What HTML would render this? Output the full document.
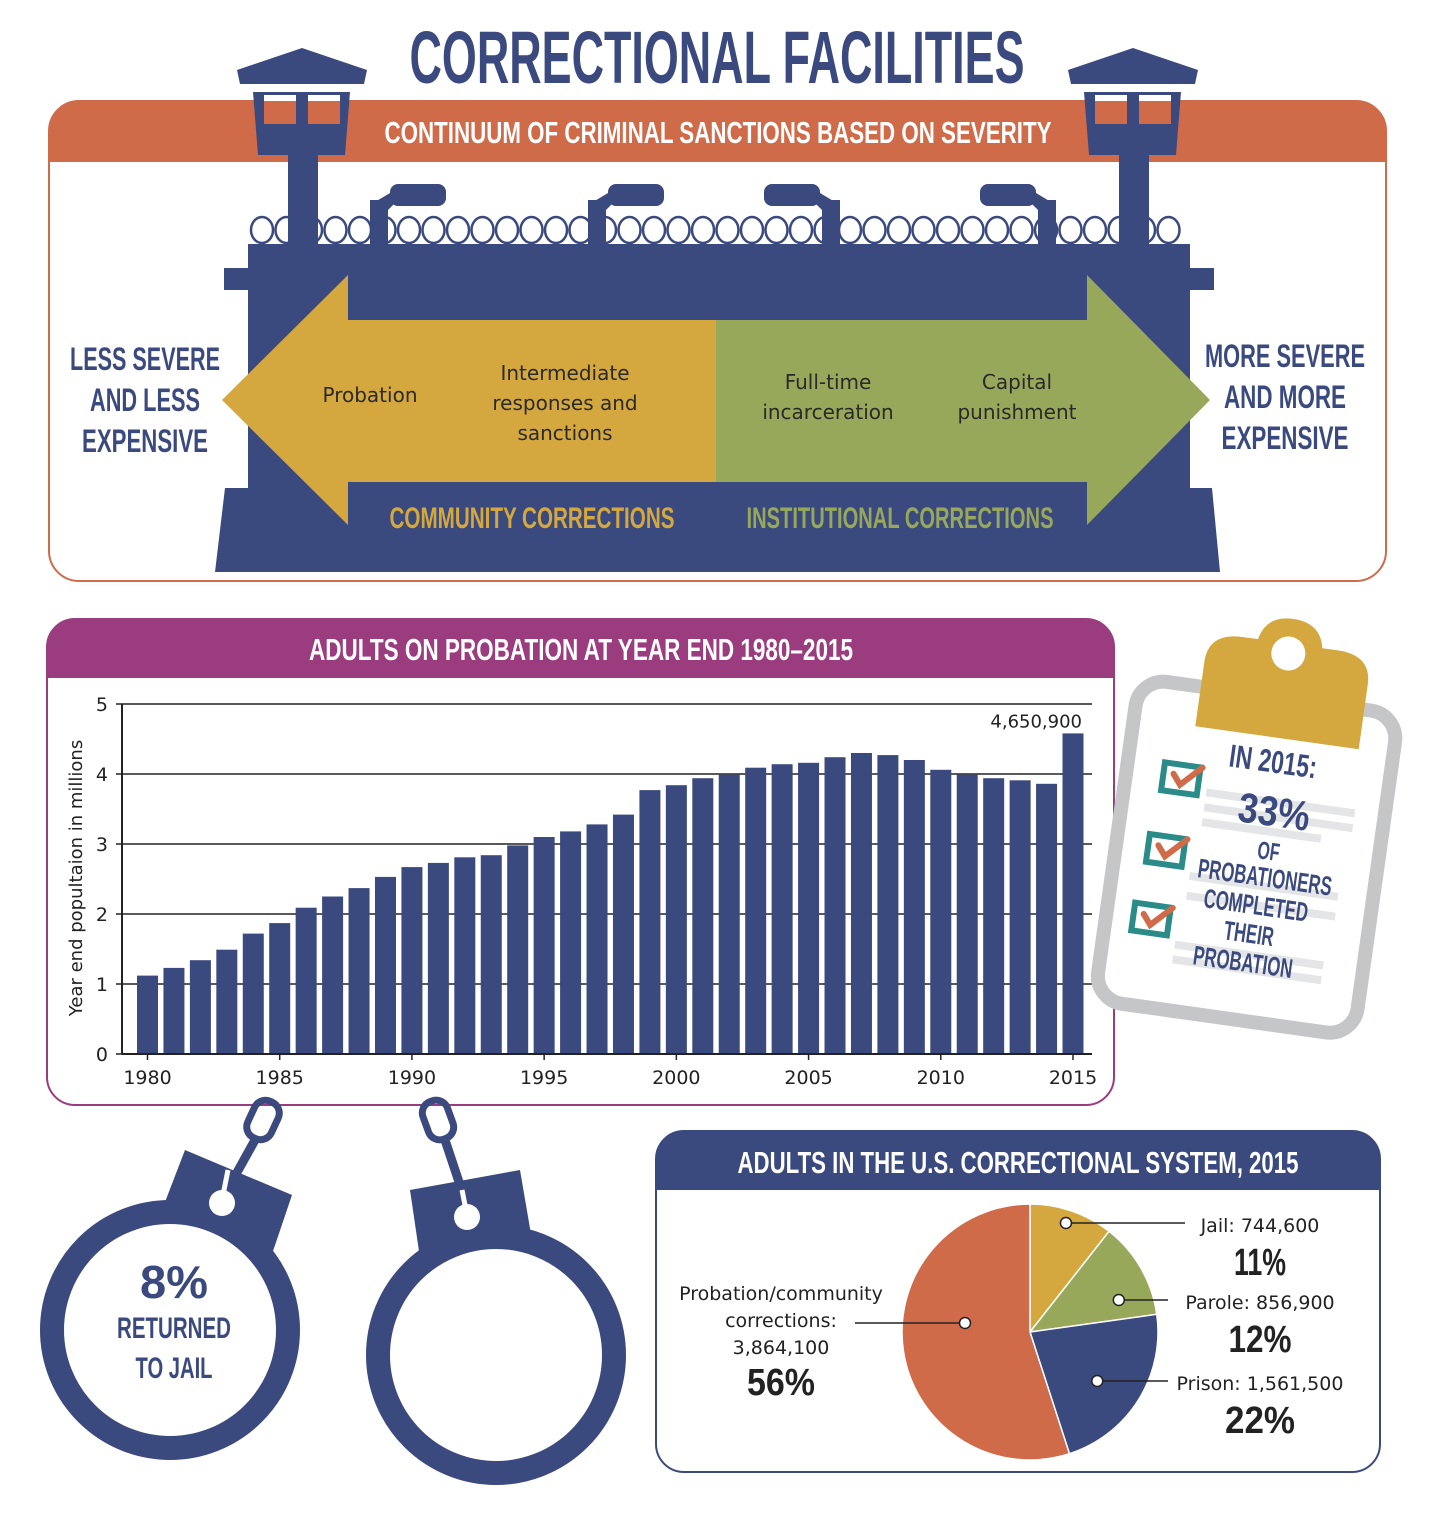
<!DOCTYPE html>
<html><head><meta charset="utf-8"><style>
body{margin:0;background:#fff;}
svg{display:block;}
.c{font-family:"Liberation Sans Narrow","Liberation Sans",sans-serif;font-weight:bold;}
.s{font-family:"DejaVu Sans","Liberation Sans",sans-serif;}
</style></head><body>
<svg width="1430" height="1519" viewBox="0 0 1430 1519" xmlns="http://www.w3.org/2000/svg">
<g><text x="717" y="83" text-anchor="middle" class="c" font-size="74" fill="#3b4a7e" textLength="615" lengthAdjust="spacingAndGlyphs">CORRECTIONAL FACILITIES</text></g>

<g>
<rect x="49" y="101" width="1337" height="480" rx="30" fill="#fff" stroke="#d06b4a" stroke-width="2"/>
<path d="M79 101 H1356 A30 30 0 0 1 1386 131 V162 H49 V131 A30 30 0 0 1 79 101Z" fill="#d06b4a"/>
<text x="718" y="143" text-anchor="middle" class="c" font-size="31" fill="#fff" textLength="667" lengthAdjust="spacingAndGlyphs">CONTINUUM OF CRIMINAL SANCTIONS BASED ON SEVERITY</text>
</g>

<g fill="#3b4a7e">
<g>
<polygon points="237,70 302,48 367,70 364,84 240,84"/>
<polygon points="253,92 350,92 345,155 258,155"/>
<rect x="264" y="95" width="32" height="29" fill="#d06b4a"/><rect x="308" y="95" width="32" height="29" fill="#d06b4a"/>
<rect x="264" y="95" width="32" height="6" fill="#fff"/><rect x="308" y="95" width="32" height="6" fill="#fff"/>
<rect x="288" y="155" width="30" height="100"/>
</g>
<g>
<polygon points="1068,70 1133,48 1198,70 1195,84 1071,84"/>
<polygon points="1084,92 1181,92 1176,155 1089,155"/>
<rect x="1095" y="95" width="32" height="29" fill="#d06b4a"/><rect x="1139" y="95" width="32" height="29" fill="#d06b4a"/>
<rect x="1095" y="95" width="32" height="6" fill="#fff"/><rect x="1139" y="95" width="32" height="6" fill="#fff"/>
<rect x="1119" y="155" width="30" height="100"/>
</g>
<g>
<rect x="370" y="200" width="18" height="50"/><polygon points="370,205 395,190 400,198 388,210"/><rect x="390" y="184" width="56" height="22" rx="8"/>
<rect x="588" y="200" width="18" height="50"/><polygon points="588,205 613,190 618,198 606,210"/><rect x="608" y="184" width="56" height="22" rx="8"/>
<rect x="822" y="200" width="18" height="50"/><polygon points="840,205 815,190 810,198 822,210"/><rect x="764" y="184" width="56" height="22" rx="8"/>
<rect x="1038" y="200" width="18" height="50"/><polygon points="1056,205 1031,190 1026,198 1038,210"/><rect x="980" y="184" width="56" height="22" rx="8"/>
</g>
<g fill="none" stroke="#3b4a7e" stroke-width="2.5" id="wire"></g>
<rect x="248" y="244" width="942" height="250"/>
<rect x="224" y="268" width="30" height="22"/><rect x="1184" y="268" width="30" height="22"/>
<polygon points="225,488 1212,488 1220,572 215,572"/>
</g>

<g>
<polygon points="222,400 348,275 348,320 716,320 716,482 348,482 348,525" fill="#d4a83e"/>
<polygon points="1210,400 1087,275 1087,320 716,320 716,482 1087,482 1087,525" fill="#98a85a"/>
<g class="s" font-size="20" fill="#2a2a2a" text-anchor="middle">
<text x="370" y="402">Probation</text>
<text x="565" y="380">Intermediate</text><text x="565" y="410">responses and</text><text x="565" y="440">sanctions</text>
<text x="828" y="389">Full-time</text><text x="828" y="419">incarceration</text>
<text x="1017" y="389">Capital</text><text x="1017" y="419">punishment</text>
</g>
<text x="532" y="528" text-anchor="middle" class="c" font-size="30" fill="#d4a83e" textLength="285" lengthAdjust="spacingAndGlyphs">COMMUNITY CORRECTIONS</text>
<text x="900" y="528" text-anchor="middle" class="c" font-size="30" fill="#98a85a" textLength="307" lengthAdjust="spacingAndGlyphs">INSTITUTIONAL CORRECTIONS</text>
</g>
<g class="c" font-size="32" fill="#3b4a7e" text-anchor="middle">
<text x="145" y="370" textLength="150" lengthAdjust="spacingAndGlyphs">LESS SEVERE</text><text x="145" y="411" textLength="110" lengthAdjust="spacingAndGlyphs">AND LESS</text><text x="145" y="452" textLength="126" lengthAdjust="spacingAndGlyphs">EXPENSIVE</text>
<text x="1285" y="367" textLength="160" lengthAdjust="spacingAndGlyphs">MORE SEVERE</text><text x="1285" y="408" textLength="122" lengthAdjust="spacingAndGlyphs">AND MORE</text><text x="1285" y="449" textLength="127" lengthAdjust="spacingAndGlyphs">EXPENSIVE</text>
</g>

<g>
<rect x="47" y="619" width="1067" height="486" rx="28" fill="#fff" stroke="#9b3c7f" stroke-width="2"/>
<path d="M75 619 H1086 A28 28 0 0 1 1114 647 V678 H47 V647 A28 28 0 0 1 75 619Z" fill="#9b3c7f"/>
<text x="581" y="660" text-anchor="middle" class="c" font-size="31" fill="#fff" textLength="544" lengthAdjust="spacingAndGlyphs">ADULTS ON PROBATION AT YEAR END 1980–2015</text>
<g id="barchart"></g>
</g>

<g transform="rotate(8 1250 840)">
<rect x="1118" y="695" width="262" height="325" rx="28" fill="#fff" stroke="#c5c6c8" stroke-width="14"/>
<path d="M1180 700 V670 Q1180 640 1215 640 H1230 Q1235 615 1262 615 Q1290 615 1295 640 H1310 Q1345 640 1345 670 V735 H1180Z" fill="#d4a83e"/>
<circle cx="1262" cy="650" r="17" fill="#fff"/>
<g fill="#e4e5e6"><rect x="1200" y="795" width="150" height="8"/><rect x="1200" y="810" width="150" height="8"/><rect x="1200" y="825" width="120" height="8"/><rect x="1195" y="880" width="150" height="8"/><rect x="1195" y="900" width="150" height="8"/><rect x="1190" y="950" width="150" height="8"/><rect x="1190" y="965" width="150" height="8"/></g>
<g>
<rect x="1155" y="775" width="36" height="28" fill="none" stroke="#2a8b88" stroke-width="6"/><path d="M1165 785 l8 10 l20 -20" fill="none" stroke="#d06b4a" stroke-width="6" stroke-linecap="round"/>
<rect x="1150" y="848" width="36" height="28" fill="none" stroke="#2a8b88" stroke-width="6"/><path d="M1160 858 l8 10 l20 -20" fill="none" stroke="#d06b4a" stroke-width="6" stroke-linecap="round"/>
<rect x="1145" y="918" width="36" height="28" fill="none" stroke="#2a8b88" stroke-width="6"/><path d="M1155 928 l8 10 l20 -20" fill="none" stroke="#d06b4a" stroke-width="6" stroke-linecap="round"/>
</g>
<g class="c" fill="#3b4a7e" text-anchor="middle">
<text x="1262" y="770" font-size="32" textLength="88" lengthAdjust="spacingAndGlyphs">IN 2015:</text>
<text x="1270" y="823" font-size="42" textLength="72" lengthAdjust="spacingAndGlyphs">33%</text>
<text x="1270" y="857" font-size="25" textLength="22" lengthAdjust="spacingAndGlyphs">OF</text>
<text x="1270" y="884" font-size="27" textLength="135" lengthAdjust="spacingAndGlyphs">PROBATIONERS</text>
<text x="1265" y="913" font-size="27" textLength="105" lengthAdjust="spacingAndGlyphs">COMPLETED</text>
<text x="1262" y="942" font-size="27" textLength="50" lengthAdjust="spacingAndGlyphs">THEIR</text>
<text x="1260" y="971" font-size="27" textLength="100" lengthAdjust="spacingAndGlyphs">PROBATION</text>
</g>
</g>

<g fill="#3b4a7e">
<g fill="none" stroke="#3b4a7e" stroke-width="7">
<rect x="250" y="1100" width="26" height="40" rx="12" transform="rotate(25 263 1120)"/>
<rect x="425" y="1100" width="26" height="40" rx="12" transform="rotate(-20 438 1120)"/>
<line x1="255" y1="1140" x2="230" y2="1185" stroke-width="9"/>
<line x1="445" y1="1140" x2="460" y2="1185" stroke-width="9"/>
</g>
<polygon points="185,1150 292,1195 270,1260 160,1215"/>
<line x1="228" y1="1170" x2="222" y2="1200" stroke="#fff" stroke-width="5"/>
<polygon points="410,1190 520,1170 532,1240 420,1258"/>
<line x1="462" y1="1190" x2="467" y2="1215" stroke="#fff" stroke-width="5"/>
<circle cx="170" cy="1330" r="118" fill="#fff" stroke="#3b4a7e" stroke-width="24"/>
<circle cx="496" cy="1355" r="118" fill="#fff" stroke="#3b4a7e" stroke-width="24"/>
<circle cx="222" cy="1203" r="13" fill="#fff"/>
<circle cx="467" cy="1217" r="13" fill="#fff"/>
<g class="c" text-anchor="middle"><text x="174" y="1298" font-size="46" textLength="68" lengthAdjust="spacingAndGlyphs">8%</text><text x="174" y="1338" font-size="30" textLength="114" lengthAdjust="spacingAndGlyphs">RETURNED</text><text x="174" y="1378" font-size="30" textLength="77" lengthAdjust="spacingAndGlyphs">TO JAIL</text></g>
</g>

<g>
<rect x="656" y="1131" width="724" height="341" rx="28" fill="#fff" stroke="#3b4a7e" stroke-width="2"/>
<path d="M684 1131 H1352 A28 28 0 0 1 1380 1159 V1190 H656 V1159 A28 28 0 0 1 684 1131Z" fill="#3b4a7e"/>
<text x="1018" y="1173" text-anchor="middle" class="c" font-size="31" fill="#fff" textLength="561" lengthAdjust="spacingAndGlyphs">ADULTS IN THE U.S. CORRECTIONAL SYSTEM, 2015</text>
<g id="pie"></g>
</g>

<script>
const NS="http://www.w3.org/2000/svg";
function mk(t,a,p){const e=document.createElementNS(NS,t);for(const k in a)e.setAttribute(k,a[k]);p.appendChild(e);return e;}
const wire=document.getElementById('wire');
for(let x=262;x<1185;x+=24.5){mk('ellipse',{cx:x,cy:230,rx:11,ry:13},wire);}

// bar chart data
const years=[1980,1981,1982,1983,1984,1985,1986,1987,1988,1989,1990,1991,1992,1993,1994,1995,1996,1997,1998,1999,2000,2001,2002,2003,2004,2005,2006,2007,2008,2009,2010,2011,2012,2013,2014,2015];
const probation=[1.12,1.23,1.34,1.49,1.72,1.87,2.09,2.25,2.37,2.53,2.67,2.73,2.81,2.84,2.98,3.1,3.18,3.28,3.42,3.77,3.84,3.94,3.99,4.09,4.14,4.16,4.24,4.30,4.27,4.20,4.06,3.99,3.94,3.91,3.86,4.58];
const yTicks=[0,1,2,3,4,5];
const xTickLabels=[1980,1985,1990,1995,2000,2005,2010,2015];
const peakLabel="4,650,900";

const bc=document.getElementById('barchart');
const X0=122,X1=1092,Y0=1054,Y1=704;
const XA=147.5,XB=1073;
const xs=i=>XA+(XB-XA)*i/(years.length-1);
const ys=v=>Y0-(v/5)*(Y0-Y1);
yTicks.forEach(t=>{
  if(t>0){const l=mk('line',{x1:X0,x2:X1,y1:ys(t),y2:ys(t),stroke:'#222','stroke-width':1.5},bc);
  
  }
  const tx=mk('text',{x:X0-14,y:ys(t)+7,'text-anchor':'end','font-size':19,fill:'#222',class:'s'},bc);tx.textContent=t;
  
  
  mk('line',{x1:X0-6,x2:X0,y1:ys(t),y2:ys(t),stroke:'#222','stroke-width':1.5},bc);
});
probation.forEach((v,i)=>{
  const r=mk('rect',{x:xs(i)-10.5,y:ys(v),width:21,height:Y0-ys(v),fill:'#3b4a7e'},bc);
  
  
});
mk('line',{x1:X0,x2:X0,y1:Y1,y2:Y0,stroke:'#222','stroke-width':2},bc);
mk('line',{x1:X0,x2:X1,y1:Y0,y2:Y0,stroke:'#222','stroke-width':2},bc);
xTickLabels.forEach(y=>{
  const i=years.indexOf(y);
  mk('line',{x1:xs(i),x2:xs(i),y1:Y0,y2:Y0+6,stroke:'#222','stroke-width':1.5},bc);
  const t=mk('text',{x:xs(i),y:Y0+30,'text-anchor':'middle','font-size':19,fill:'#222',class:'s'},bc);t.textContent=y;
  
  
});
const pk=mk('text',{x:xs(years.length-1)+9,y:ys(probation[probation.length-1])-6,'text-anchor':'end','font-size':18,fill:'#222',class:'s'},bc);pk.textContent=peakLabel;


const yt=mk('text',{x:0,y:0,'text-anchor':'middle','font-size':18,fill:'#222',class:'s',transform:'translate(82 878) rotate(-90)'},bc);yt.textContent='Year end popultaion in millions';



// pie data
const pieLabels=["Jail","Parole","Prison","Probation/community corrections"];
const pieValues=[744600,856900,1561500,3864100];
const piePct=["11%","12%","22%","56%"];
const pieColors=['#d4a83e','#98a85a','#3b4a7e','#d06b4a'];
const pie=document.getElementById('pie');
const CX=1030,CY=1332,R=128;
const tot=pieValues.reduce((a,b)=>a+b,0);
let a=0;const mids=[];
pieValues.forEach((v,i)=>{
  const a2=a+v/tot*2*Math.PI;
  const p=(ang)=>[CX+R*Math.sin(ang),CY-R*Math.cos(ang)];
  const [x1,y1]=p(a),[x2,y2]=p(a2);
  const s=mk('path',{d:`M${CX} ${CY} L${x1} ${y1} A${R} ${R} 0 ${a2-a>Math.PI?1:0} 1 ${x2} ${y2}Z`,fill:pieColors[i],stroke:'#fff','stroke-width':1.5},pie);
  
  
  mids.push((a+a2)/2);a=a2;
});
function num(v){return v.toLocaleString('en-US');}
const rightY=[1225,1302,1383];
const pctW=[52,63,70];
for(let i=0;i<3;i++){
  const m=mids[i];const dx=CX+R*0.62*Math.sin(m)+(i==0?10:i==1?20:0);
  const ly=rightY[i]-2;
  mk('line',{x1:dx,y1:ly,x2:i==0?1185:1168,y2:ly,stroke:'#222','stroke-width':1.5},pie);
  mk('circle',{cx:dx,cy:ly,r:5.5,fill:'#fff',stroke:'#222','stroke-width':1.5},pie);
  const t=mk('text',{x:1260,y:rightY[i]+7,'text-anchor':'middle','font-size':19,fill:'#222',class:'s'},pie);t.textContent=pieLabels[i]+': '+num(pieValues[i]);
  
  
  const pc=mk('text',{x:1260,y:rightY[i]+50,'text-anchor':'middle','font-size':38,fill:'#222',class:'c',textLength:pctW[i],lengthAdjust:'spacingAndGlyphs'},pie);pc.textContent=piePct[i];
  
  
}
mk('line',{x1:855,y1:1323,x2:965,y2:1323,stroke:'#222','stroke-width':1.5},pie);
mk('circle',{cx:965,cy:1323,r:5.5,fill:'#fff',stroke:'#222','stroke-width':1.5},pie);
[["Probation/community",1300],["corrections:",1327],[num(pieValues[3]),1354]].forEach(([s,y])=>{
  const t=mk('text',{x:781,y:y,'text-anchor':'middle','font-size':19,fill:'#222',class:'s'},pie);t.textContent=s;
  
  
});
const p4=mk('text',{x:781,y:1395,'text-anchor':'middle','font-size':38,fill:'#222',class:'c',textLength:68,lengthAdjust:'spacingAndGlyphs'},pie);p4.textContent=piePct[3];


</script>
</svg>
</body></html>
